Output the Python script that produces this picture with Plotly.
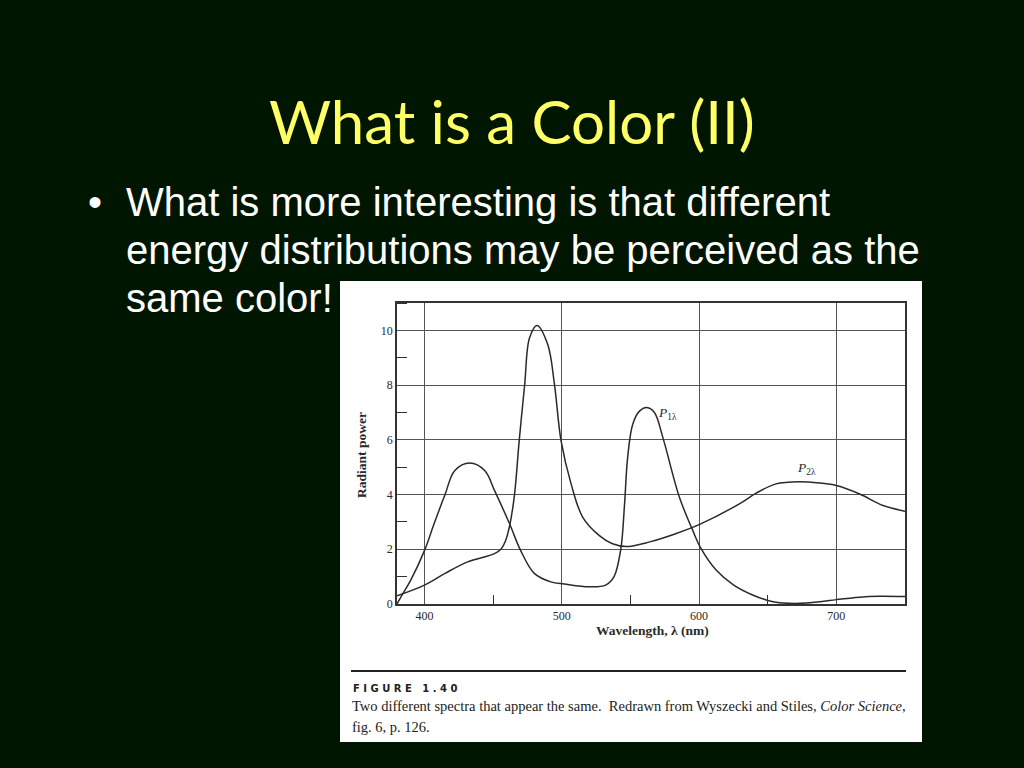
import plotly.graph_objects as go

# ---- data ----
wl_p1 = [380, 383, 390, 400, 407, 415, 422, 433, 444, 451, 462, 470, 480, 492, 502,
         520, 532, 538, 543, 545.6, 548, 551.7, 556.6, 562, 567.5, 573.6, 585.7,
         595.4, 601.5, 612.4, 625, 639, 654, 670, 688, 700, 717, 731, 750]
p1 = [0.0, 0.27, 0.87, 1.95, 2.93, 4.0, 4.87, 5.15, 4.87, 4.15, 2.93, 1.96, 1.12, 0.81, 0.73,
      0.63, 0.69, 0.99, 2.0, 3.54, 5.36, 6.57, 7.05, 7.18, 7.0, 6.09, 3.9,
      2.69, 2.02, 1.24, 0.7, 0.33, 0.08, 0.02, 0.08, 0.16, 0.25, 0.28, 0.27]

wl_p2 = [380, 400, 415, 431.5, 451, 456, 459, 462, 465.5, 469, 473, 476.5, 482, 489.8,
         494.7, 499.5, 506.8, 515.3, 527.4, 537, 547, 564, 583, 600, 629.4,
         641.6, 656, 673, 688, 700, 717, 734, 750]
p2 = [0.3, 0.69, 1.12, 1.54, 1.84, 2.02, 2.3, 2.85, 3.96, 5.96, 8.02, 9.72, 10.18, 9.48,
      8.02, 5.96, 4.39, 3.17, 2.5, 2.2, 2.1, 2.27, 2.57, 2.9, 3.66,
      4.05, 4.39, 4.47, 4.42, 4.33, 4.02, 3.6, 3.39]

x_ticks = [400, 500, 600, 700]
y_ticks = [0, 2, 4, 6, 8, 10]

title_text = "What is a Color (II)"
bullet_lines = ["What is more interesting is that different",
                "energy distributions may be perceived as the",
                "same color!"]
caption_head = "F I G U R E   1 . 4 0"
caption_lines = ["Two different spectra that appear the same.  Redrawn from Wyszecki and Stiles, <i>Color Science</i>,",
                 "fig. 6, p. 126."]

# ---- layout geometry (pixels) ----
W_, H_ = 1024, 768
X0, X1, Y1, Y0 = 397, 905, 303, 604
PW, PH = X1 - X0, Y0 - Y1
def px(x):
    return (x - X0) / PW
def py(y):
    return (Y0 - y) / PH

BG = "#011601"
INK = "#2a2a2a"
SERIF = "Liberation Serif, DejaVu Serif, serif"

fig = go.Figure()
fig.add_trace(go.Scatter(x=wl_p1, y=p1, mode="lines",
                         line=dict(color=INK, width=1.5, shape="spline", smoothing=1.0),
                         hoverinfo="skip", showlegend=False))
fig.add_trace(go.Scatter(x=wl_p2, y=p2, mode="lines",
                         line=dict(color=INK, width=1.5, shape="spline", smoothing=1.0),
                         hoverinfo="skip", showlegend=False))

shapes = [
    dict(type="rect", xref="paper", yref="paper", x0=px(340), x1=px(922), y0=py(742), y1=py(281),
         fillcolor="white", line=dict(width=0), layer="below"),
    dict(type="line", xref="paper", yref="paper", x0=px(351), x1=px(906), y0=py(671), y1=py(671),
         line=dict(color="#222", width=2)),
]

ann = []
ann.append(dict(text=title_text, x=px(512), y=py(121), xref="paper", yref="paper",
                showarrow=False, xanchor="center", yanchor="middle",
                font=dict(family="Lato, Open Sans, sans-serif", size=60, color="#FFFF66")))
ann.append(dict(text="•", x=px(86), y=py(202), xref="paper", yref="paper", showarrow=False,
                xanchor="left", yanchor="middle",
                font=dict(family="Liberation Sans, Arial, sans-serif", size=40, color="white")))
for i, line in enumerate(bullet_lines):
    ann.append(dict(text=line, x=px(124), y=py(202 + 48 * i), xref="paper", yref="paper",
                    showarrow=False, xanchor="left", yanchor="middle",
                    font=dict(family="Liberation Sans, Arial, sans-serif", size=40, color="white")))
# axis titles
ann.append(dict(text="<b>Radiant power</b>", x=px(361), y=py(455), xref="paper", yref="paper",
                showarrow=False, textangle=-90, xanchor="center", yanchor="middle",
                font=dict(family=SERIF, size=13.5, color=INK)))
ann.append(dict(text="<b>Wavelength, λ (nm)</b>", x=px(652), y=py(630), xref="paper", yref="paper",
                showarrow=False, xanchor="center", yanchor="middle",
                font=dict(family=SERIF, size=13.5, color=INK)))
# curve labels
ann.append(dict(text="<i>P</i><sub>1λ</sub>", x=569, y=6.95, xref="x", yref="y", showarrow=False,
                xanchor="left", yanchor="middle", font=dict(family=SERIF, size=13.5, color=INK)))
ann.append(dict(text="<i>P</i><sub>2λ</sub>", x=670, y=4.95, xref="x", yref="y", showarrow=False,
                xanchor="left", yanchor="middle", font=dict(family=SERIF, size=13.5, color=INK)))
# caption
ann.append(dict(text="<b>" + caption_head + "</b>", x=px(351), y=py(688), xref="paper", yref="paper",
                showarrow=False, xanchor="left", yanchor="middle",
                font=dict(family="DejaVu Sans, sans-serif", size=10, color="#222")))
for i, line in enumerate(caption_lines):
    ann.append(dict(text=line, x=px(350), y=py(706 + 21 * i), xref="paper", yref="paper",
                    showarrow=False, xanchor="left", yanchor="middle",
                    font=dict(family=SERIF, size=14.5, color="#222")))

fig.update_layout(
    width=W_, height=H_, autosize=False,
    margin=dict(l=X0, r=W_ - X1, t=Y1, b=H_ - Y0, pad=0),
    paper_bgcolor=BG, plot_bgcolor="white",
    shapes=shapes, annotations=ann, showlegend=False,
    xaxis=dict(range=[380, 750], tickvals=x_ticks, ticktext=[str(v) for v in x_ticks],
               showgrid=True, gridcolor="#555", gridwidth=1, zeroline=False,
               showline=True, linecolor="#333", linewidth=1.5, mirror=True,
               ticks="", tickfont=dict(family=SERIF, size=12, color=INK),
               minor=dict(tick0=350, dtick=100, ticks="inside", ticklen=9, tickcolor="#333",
                          tickwidth=1.2, showgrid=False)),
    yaxis=dict(range=[0, 11], tickvals=y_ticks, ticktext=[str(v) for v in y_ticks],
               showgrid=True, gridcolor="#555", gridwidth=1, zeroline=False,
               showline=True, linecolor="#333", linewidth=1.5, mirror=True,
               ticks="", tickfont=dict(family=SERIF, size=12, color=INK),
               minor=dict(tick0=1, dtick=2, ticks="inside", ticklen=10, tickcolor="#333",
                          tickwidth=1.2, showgrid=False)),
)

fig.write_html("out.html", config={"displayModeBar": False},
               post_script="document.body.style.margin='0';document.body.style.background='" + BG + "';")
